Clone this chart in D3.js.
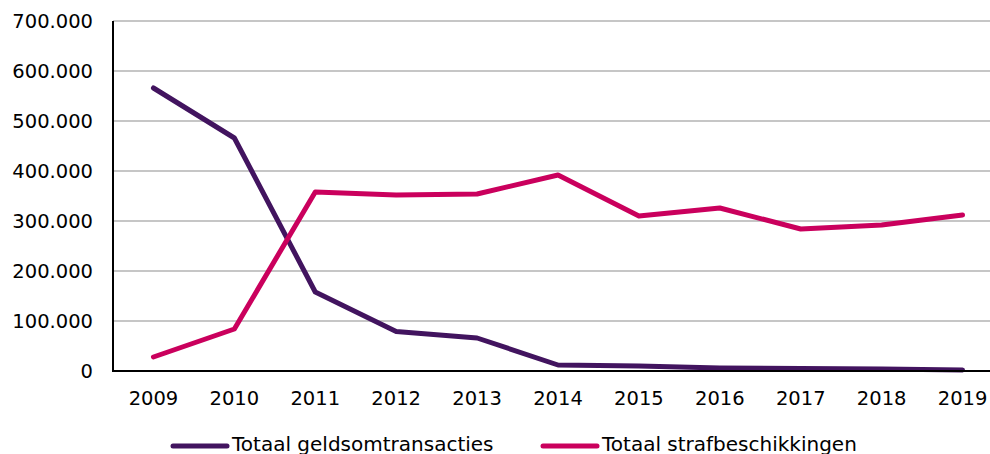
<!DOCTYPE html>
<html>
<head>
<meta charset="utf-8">
<script src="https://cdn.jsdelivr.net/npm/d3@7"></script>
<style>
  body { margin: 0; background: #fff; }
  svg { display: block; font-family: "DejaVu Sans", Verdana, sans-serif; }
</style>
</head>
<body>
<div id="chart"></div>
<script>
// data
const years = ['2009', '2010', '2011', '2012', '2013', '2014', '2015', '2016', '2017', '2018', '2019'];
const geldsomtransacties = [566000, 466000, 158000, 79000, 66000, 12000, 10000, 6000, 5000, 4000, 2000];
const strafbeschikkingen = [28000, 84000, 358000, 352000, 354000, 392000, 310000, 326000, 284000, 292000, 312000];
const yTicks = [0, 100000, 200000, 300000, 400000, 500000, 600000, 700000];
const seriesNames = ['Totaal geldsomtransacties', 'Totaal strafbeschikkingen'];
const seriesColors = ['#42145f', '#ca005d'];

const width = 990;
const height = 454;
const margin = { top: 21, left: 113, bottom: 83 };
const plotRight = 1003; // plot runs past the right edge, cut off like the original

const svg = d3.select('#chart').append('svg')
  .attr('width', width)
  .attr('height', height);

const x = d3.scaleBand()
  .domain(years)
  .range([margin.left, plotRight]);

const y = d3.scaleLinear()
  .domain([0, 700000])
  .range([height - margin.bottom, margin.top]);

const fmt = v => d3.format(',')(v).replace(/,/g, '.');

// gridlines
svg.append('g')
  .selectAll('line')
  .data(yTicks.filter(t => t > 0))
  .enter().append('line')
  .attr('x1', margin.left)
  .attr('x2', plotRight)
  .attr('y1', d => y(d))
  .attr('y2', d => y(d))
  .attr('stroke', '#b3b3b3')
  .attr('stroke-width', 1.6);

// y labels
svg.append('g')
  .selectAll('text')
  .data(yTicks)
  .enter().append('text')
  .attr('x', 93)
  .attr('y', d => y(d))
  .attr('dy', '0.36em')
  .attr('text-anchor', 'end')
  .style('font-size', '19.5px')
  .style('fill', '#000')
  .text(d => fmt(d));

// x labels
svg.append('g')
  .selectAll('text')
  .data(years)
  .enter().append('text')
  .attr('x', d => x(d) + x.bandwidth() / 2)
  .attr('y', 405)
  .attr('text-anchor', 'middle')
  .style('font-size', '19.5px')
  .style('fill', '#000')
  .text(d => d);

// lines
const line = d3.line()
  .x((d, i) => x(years[i]) + x.bandwidth() / 2)
  .y(d => y(d));

[geldsomtransacties, strafbeschikkingen].forEach((vals, i) => {
  svg.append('path')
    .datum(vals)
    .attr('d', line)
    .attr('fill', 'none')
    .attr('stroke', seriesColors[i])
    .attr('stroke-width', 5)
    .attr('stroke-linejoin', 'round')
    .attr('stroke-linecap', 'round');
});

// axes
svg.append('line')
  .attr('x1', margin.left).attr('x2', margin.left)
  .attr('y1', y(700000)).attr('y2', y(0))
  .attr('stroke', '#000').attr('stroke-width', 2);
svg.append('line')
  .attr('x1', margin.left - 1).attr('x2', plotRight)
  .attr('y1', y(0)).attr('y2', y(0))
  .attr('stroke', '#000').attr('stroke-width', 2);

// legend (cut off at the bottom, as in the original)
const legendX = [173, 543];
const legend = svg.append('g');
seriesNames.forEach((name, i) => {
  legend.append('line')
    .attr('x1', legendX[i]).attr('x2', legendX[i] + 54)
    .attr('y1', 446).attr('y2', 446)
    .attr('stroke', seriesColors[i])
    .attr('stroke-width', 5)
    .attr('stroke-linecap', 'round');
  legend.append('text')
    .attr('x', legendX[i] + 59)
    .attr('y', 451)
    .style('font-size', '20px')
    .style('fill', '#000')
    .text(name);
});
</script>
</body>
</html>
